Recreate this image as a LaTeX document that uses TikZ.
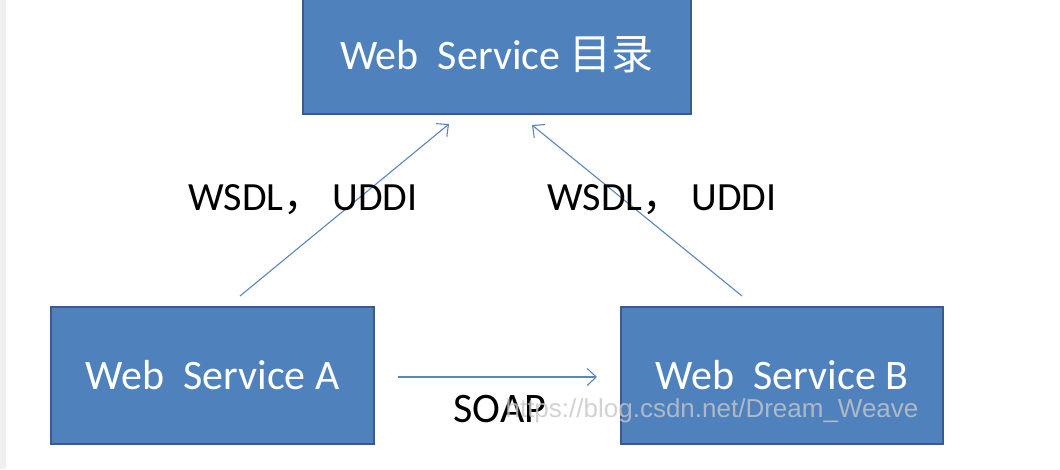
\documentclass[tikz,border=0pt]{standalone}
\usepackage{fontspec}
\setmainfont{Carlito}
\newfontfamily\cjk{Noto Sans CJK SC}
\newfontfamily\wmfont{Liberation Sans}
\usetikzlibrary{arrows.meta}
\definecolor{boxfill}{HTML}{4F81BD}
\definecolor{boxline}{HTML}{385D8A}
\definecolor{arrowcol}{HTML}{5A86BE}
\tikzset{
  x=1pt,y=1pt,
  svcbox/.style={draw=boxline, line width=2.2pt, fill=boxfill, text=white,
    font=\fontsize{42}{48}\selectfont, inner sep=0pt, anchor=center},
  conn/.style={draw=arrowcol, line width=1.1pt,
    -{Straight Barb[length=9pt,width=17pt,line width=1.1pt]}},
  lbl/.style={font=\fontsize{40}{46}\selectfont, text=black, inner sep=0pt},
}
\begin{document}
\begin{tikzpicture}
\useasboundingbox (0,0) rectangle (1060,469);
\fill[white] (0,0) rectangle (1060,469);
\fill[black!6] (0,0) rectangle (6,469);
\node[svcbox, minimum width=388pt, minimum height=118pt] (dir) at (497,414) {Web\ \ Service {\cjk 目录}};
\node[svcbox, minimum width=323pt, minimum height=137pt] (A) at (212.5,93.5) {Web\ \ Service A};
\node[svcbox, minimum width=322pt, minimum height=137pt] (B) at (782,93.5) {Web\ \ Service B};
\coordinate (a1) at (240,173);
\coordinate (a2) at (449,345);
\coordinate (b1) at (742,173);
\coordinate (b2) at (532,344);
\coordinate (s1) at (398,92);
\coordinate (s2) at (597,92);
\draw[conn] (a1) -- (a2);
\draw[conn] (b1) -- (b2);
\draw[conn] (s1) -- (s2);
\node[lbl] (l1) at (303,269) {WSDL{\cjk ，}\ UDDI};
\node[lbl] (l2) at (662,269) {WSDL{\cjk ，}\ UDDI};
\node[lbl, font=\fontsize{42}{48}\selectfont] (soap) at (500,60) {SOAP};
\node[inner sep=0pt, text=black!22, opacity=0.8, font=\wmfont\fontsize{26}{30}\selectfont] (wm) at (712,58) {https://blog.csdn.net/Dream\_Weave};
\end{tikzpicture}
\end{document}
